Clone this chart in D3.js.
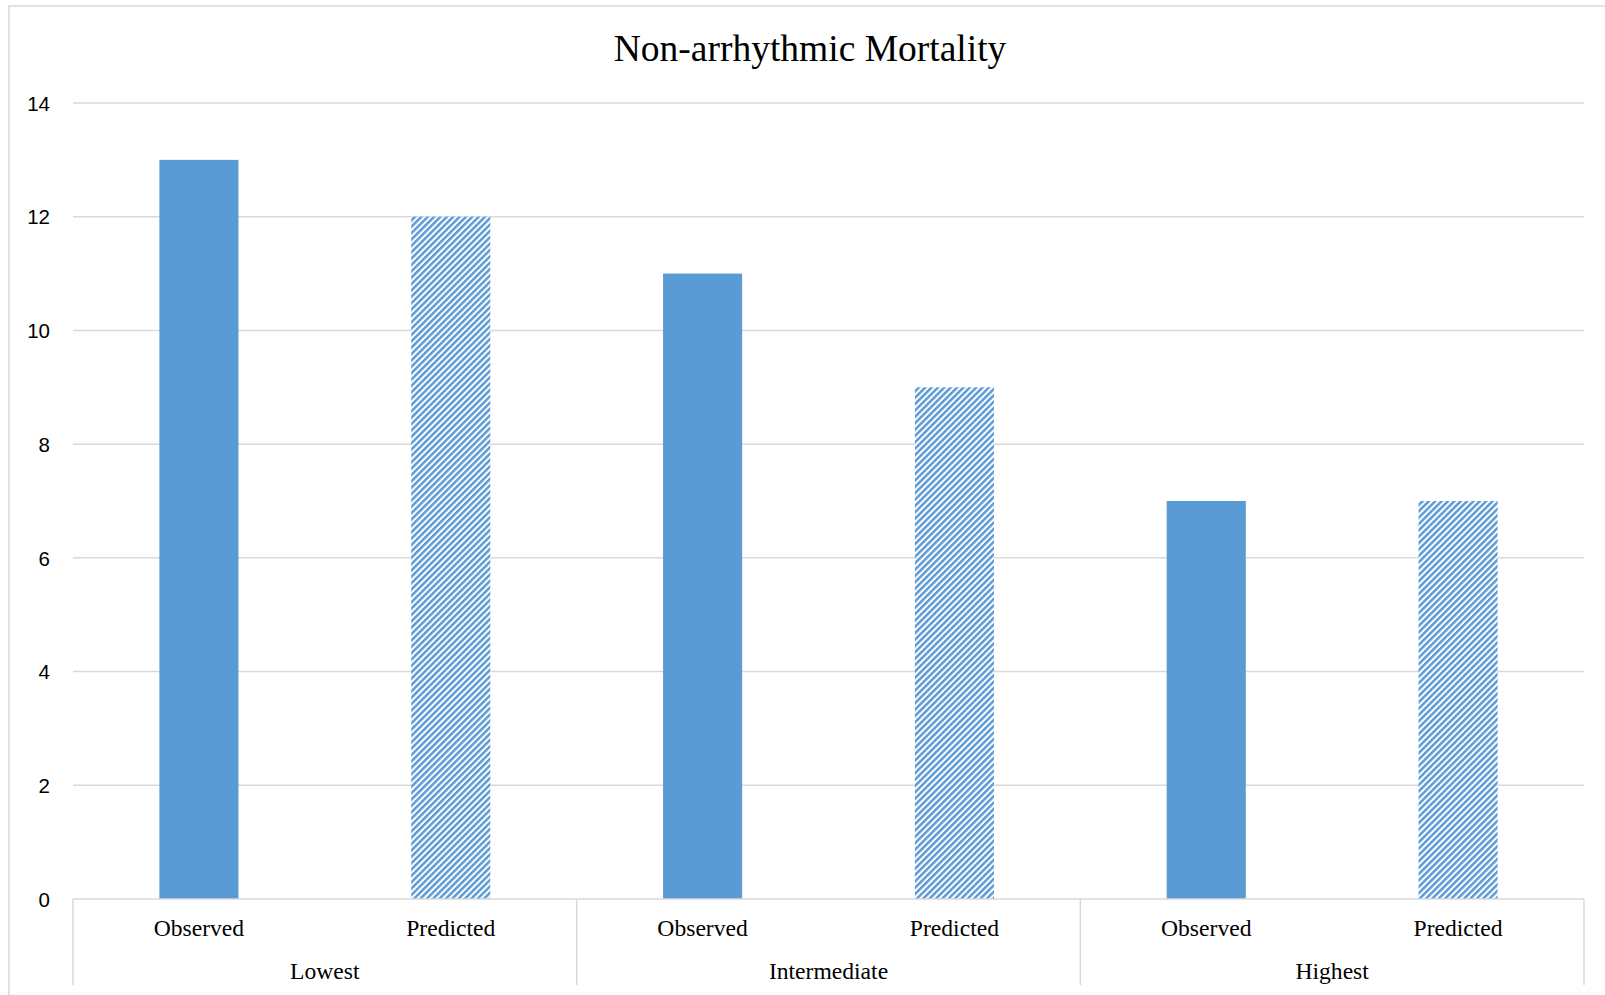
<!DOCTYPE html>
<html>
<head>
<meta charset="utf-8">
<script src="https://cdn.jsdelivr.net/npm/d3@7"></script>
<style>
  html, body { margin: 0; padding: 0; background: #fff; }
  svg { display: block; }
</style>
</head>
<body>
<svg id="chart" width="1605" height="995"></svg>
<script>
// Risk groups and the two bar series shown within each group
const groups = ["Lowest", "Intermediate", "Highest"];
const series = ["Observed", "Predicted"];
const observed = [13, 11, 7];
const predicted = [12, 9, 7];
const yTicks = [0, 2, 4, 6, 8, 10, 12, 14];
const title = "Non-arrhythmic Mortality";

const W = 1605, H = 995;
const plot = { left: 73, right: 1584, top: 103, bottom: 899 };
const blue = "#5B9BD5";
const gridColor = "#d9d9d9";

const svg = d3.select("#chart");

// Diagonal hatch for the predicted bars
const defs = svg.append("defs");
const pat = defs.append("pattern")
  .attr("id", "hatch")
  .attr("patternUnits", "userSpaceOnUse")
  .attr("width", 4.5)
  .attr("height", 10)
  .attr("patternTransform", "rotate(45)");
pat.append("rect").attr("width", 4.5).attr("height", 10).attr("fill", "#fff");
pat.append("rect").attr("width", 2.5).attr("height", 10).attr("fill", blue);

// Outer chart frame
svg.append("rect")
  .attr("x", 9).attr("y", 6)
  .attr("width", W + 20).attr("height", H + 20)
  .attr("fill", "#fff")
  .attr("stroke", gridColor).attr("stroke-width", 1.5);

// Flattened categories: one slot per (group, series)
const cats = [];
groups.forEach((g, gi) => series.forEach((s, si) => {
  cats.push({ key: g + "|" + s, group: g, series: s, gi, si,
              value: si === 0 ? observed[gi] : predicted[gi] });
}));

const x = d3.scaleBand()
  .domain(cats.map(d => d.key))
  .range([plot.left, plot.right])
  .paddingInner(0).paddingOuter(0);

const xGroup = d3.scaleBand()
  .domain(groups)
  .range([plot.left, plot.right])
  .padding(0);

const y = d3.scaleLinear()
  .domain([0, 14])
  .range([plot.bottom, plot.top]);

// Horizontal gridlines
svg.append("g")
  .selectAll("line")
  .data(yTicks.filter(t => t !== 0))
  .join("line")
  .attr("x1", plot.left).attr("x2", plot.right)
  .attr("y1", d => y(d)).attr("y2", d => y(d))
  .attr("stroke", gridColor).attr("stroke-width", 1.5);

// Y-axis labels
const yAxis = d3.axisLeft(y).tickValues(yTicks).tickSize(0).tickPadding(0);
const yg = svg.append("g")
  .attr("transform", `translate(50,0)`)
  .call(yAxis);
yg.select(".domain").remove();
yg.selectAll("text")
  .attr("font-family", "'Liberation Sans', Arial, sans-serif")
  .attr("font-size", 20.5)
  .attr("fill", "#000")
  .attr("dy", "0.35em");

// Bars
const barW = x.bandwidth() * 0.314;
svg.append("g")
  .selectAll("rect")
  .data(cats)
  .join("rect")
  .attr("x", d => x(d.key) + (x.bandwidth() - barW) / 2)
  .attr("y", d => y(d.value))
  .attr("width", barW)
  .attr("height", d => y(0) - y(d.value))
  .attr("fill", d => d.si === 0 ? blue : "url(#hatch)");

// Category axis line and group dividers
svg.append("line")
  .attr("x1", plot.left).attr("x2", plot.right)
  .attr("y1", y(0)).attr("y2", y(0))
  .attr("stroke", gridColor).attr("stroke-width", 1.5);

const dividers = groups.map(g => xGroup(g)).concat([plot.right]);
svg.append("g")
  .selectAll("line")
  .data(dividers)
  .join("line")
  .attr("x1", d => d).attr("x2", d => d)
  .attr("y1", y(0)).attr("y2", 985)
  .attr("stroke", gridColor).attr("stroke-width", 1.5);

// Series labels under each bar
svg.append("g")
  .selectAll("text")
  .data(cats)
  .join("text")
  .attr("x", d => x(d.key) + x.bandwidth() / 2)
  .attr("y", 936)
  .attr("text-anchor", "middle")
  .attr("font-family", "'Liberation Serif', 'Times New Roman', serif")
  .attr("font-size", 23.6)
  .attr("fill", "#000")
  .text(d => d.series);

// Group labels
svg.append("g")
  .selectAll("text")
  .data(groups)
  .join("text")
  .attr("x", d => xGroup(d) + xGroup.bandwidth() / 2)
  .attr("y", 979)
  .attr("text-anchor", "middle")
  .attr("font-family", "'Liberation Serif', 'Times New Roman', serif")
  .attr("font-size", 23.6)
  .attr("fill", "#000")
  .text(d => d);

// Title
svg.append("text")
  .attr("x", 810)
  .attr("y", 61)
  .attr("text-anchor", "middle")
  .attr("font-family", "'Liberation Serif', 'Times New Roman', serif")
  .attr("font-size", 37.5)
  .attr("fill", "#000")
  .text(title);
</script>
</body>
</html>
